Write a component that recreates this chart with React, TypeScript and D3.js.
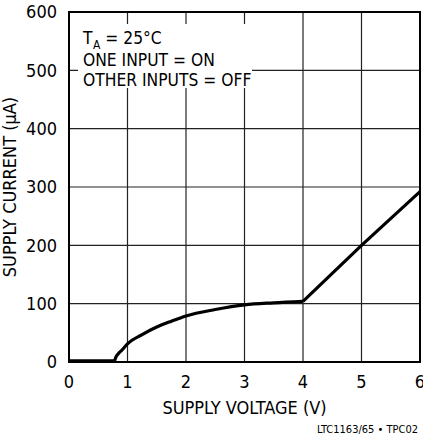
import React from 'react'
import * as d3 from 'd3'

// supply current vs supply voltage
const offVoltage = [0, 0.78]
const offCurrent = [2, 2]
const kneeVoltage = [0.78, 0.8, 0.85, 0.9, 1, 1.25, 1.5, 1.75, 2, 2.5, 3, 3.5, 4]
const kneeCurrent = [2, 8, 15, 20, 31, 47, 60, 70, 79, 90, 98, 101.5, 104]
const rampVoltage = [4, 5, 6]
const rampCurrent = [104, 200, 292]

const xTicks = [0, 1, 2, 3, 4, 5, 6]
const yTicks = [0, 100, 200, 300, 400, 500, 600]
const notes = ['ONE INPUT = ON', 'OTHER INPUTS = OFF']

const font = '"Liberation Sans Narrow", "Arial Narrow", "DejaVu Sans Condensed", sans-serif'

const W = 423
const H = 437

const App = () => {
  const x = d3.scaleLinear().domain([0, 6]).range([69, 420])
  const y = d3.scaleLinear().domain([0, 600]).range([362, 12])

  const pairs = (vs: number[], cs: number[]) => vs.map((v, i) => [v, cs[i]] as [number, number])

  const straight = d3.line<[number, number]>()
    .x(d => x(d[0]))
    .y(d => y(d[1]))
  const smooth = d3.line<[number, number]>()
    .x(d => x(d[0]))
    .y(d => y(d[1]))
    .curve(d3.curveMonotoneX)

  const [x0, x1] = x.range()
  const [y0, y1] = y.range()

  return (
    <svg width={W} height={H} style={{ position: 'absolute', left: 0, top: 0, background: '#fff' }}>
      <rect width={W} height={H} fill="#fff" />

      {/* grid */}
      <g stroke="#222" strokeWidth={1.2}>
        {xTicks.slice(1, -1).map(t => (
          <line key={'gx' + t} x1={x(t)} x2={x(t)} y1={y1} y2={y0} />
        ))}
        {yTicks.slice(1, -1).map(t => (
          <line key={'gy' + t} x1={x0} x2={x1} y1={y(t)} y2={y(t)} />
        ))}
      </g>

      {/* annotation block sits on a white patch over the grid */}
      <rect x={78} y={24} width={174} height={64} fill="#fff" />
      <g fontFamily={font} fontSize={17.3} fill="#000">
        <text x={83} y={44}>
          T<tspan fontSize={12} dx={0.5} dy={5}>A</tspan>
          <tspan dy={-5}> = 25°C</tspan>
        </text>
        {notes.map((n, i) => (
          <text key={n} x={83} y={66 + i * 19.5}>{n}</text>
        ))}
      </g>

      <rect x={x0} y={y1} width={x1 - x0} height={y0 - y1} fill="none" stroke="#000" strokeWidth={2} />

      {/* curve */}
      <g fill="none" stroke="#000" strokeWidth={3.2} strokeLinejoin="miter">
        <path d={straight(pairs(offVoltage, offCurrent)) || ''} />
        <path d={smooth(pairs(kneeVoltage, kneeCurrent)) || ''} />
        <path d={straight(pairs(rampVoltage, rampCurrent)) || ''} />
      </g>

      {/* tick labels */}
      <g fontFamily={font} fontSize={18} fill="#000">
        {xTicks.map(t => (
          <text key={'tx' + t} x={x(t)} y={388} textAnchor="middle">{t}</text>
        ))}
        {yTicks.map(t => (
          <text key={'ty' + t} x={57} y={y(t)} dy="0.35em" textAnchor="end">{t}</text>
        ))}
        <text x={(x0 + x1) / 2} y={414} textAnchor="middle">SUPPLY VOLTAGE (V)</text>
        <text transform={`translate(16,${(y0 + y1) / 2}) rotate(-90)`} textAnchor="middle">
          SUPPLY CURRENT (μA)
        </text>
      </g>

      <text x={418} y={433} textAnchor="end" fontFamily={font} fontSize={11} fill="#000">
        LTC1163/65 • TPC02
      </text>
    </svg>
  )
}

export default App
